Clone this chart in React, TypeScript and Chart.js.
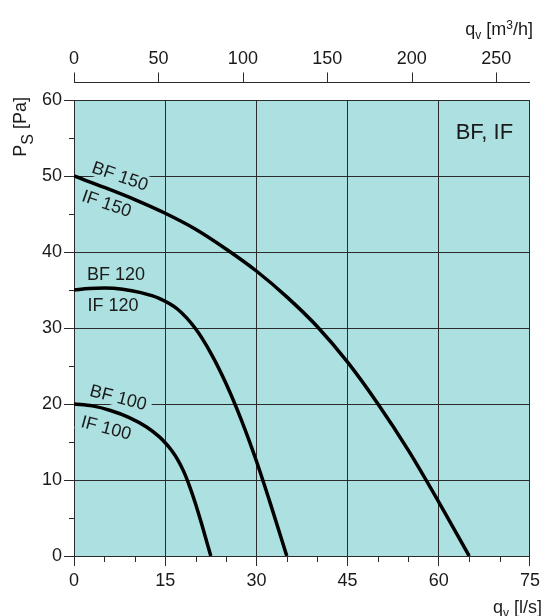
import { useEffect, useRef } from "react";
import { Chart, registerables } from "chart.js";

Chart.register(...registerables);

// Airflow in l/s and static pressure in Pa for each fan size
const flow150 = [0, 5, 10, 15, 20, 25, 30, 35, 40, 45, 50, 55, 60, 65];
const pressure150 = [50, 48.5, 46.9, 45.1, 43.0, 40.4, 37.5, 34.1, 30.2, 25.5, 20.0, 13.9, 7.1, 0];

const flow120 = [0, 2.5, 5, 8, 11, 14, 17, 20, 22.5, 25, 27.5, 30, 32.5, 35];
const pressure120 = [35.0, 35.2, 35.25, 35.1, 34.65, 33.9, 32.5, 29.9, 26.7, 22.7, 17.95, 12.5, 6.4, 0];

const flow100 = [0, 3, 6, 9, 12, 14, 15, 16, 17, 18, 19, 20, 21, 22, 22.5];
const pressure100 = [20, 19.75, 19.15, 18.25, 16.95, 15.7, 14.9, 13.95, 12.75, 11.2, 9.2, 6.85, 4.2, 1.4, 0];

const xMinorTicks = [5, 10, 20, 25, 35, 40, 50, 55, 65, 70];
const yMinorTicks = [5, 15, 25, 35, 45, 55];

const curveLabels = [
  { text: "BF 150", x: 7.6, y: 50.0, angle: 19 },
  { text: "IF 150", x: 5.4, y: 46.4, angle: 19 },
  { text: "BF 120", x: 6.9, y: 37.1, angle: 0 },
  { text: "IF 120", x: 6.4, y: 33.0, angle: 0 },
  { text: "BF 100", x: 7.3, y: 20.9, angle: 14.5 },
  { text: "IF 100", x: 5.3, y: 16.9, angle: 15 },
];
const chartTag = { text: "BF, IF", x: 67.5, y: 55.7 };

const FONT = "'Liberation Sans', Arial, Helvetica, sans-serif";
const BG = "#ade0e0";
const INK = "#1a1a1a";
const GRID = "#2b2b2b";

type Seg = { text: string; size: number; dy?: number };

function richWidth(ctx: CanvasRenderingContext2D, segs: Seg[]) {
  let w = 0;
  for (const s of segs) {
    ctx.font = `${s.size}px ${FONT}`;
    w += ctx.measureText(s.text).width;
  }
  return w;
}

function drawRich(ctx: CanvasRenderingContext2D, segs: Seg[], x: number, y: number) {
  let cx = x;
  ctx.textAlign = "left";
  ctx.textBaseline = "alphabetic";
  for (const s of segs) {
    ctx.font = `${s.size}px ${FONT}`;
    ctx.fillText(s.text, cx, y + (s.dy || 0));
    cx += ctx.measureText(s.text).width;
  }
}

const decorPlugin = {
  id: "decor",
  beforeDraw(chart: any) {
    const { ctx, chartArea } = chart;
    ctx.save();
    ctx.fillStyle = BG;
    ctx.fillRect(chartArea.left, chartArea.top, chartArea.right - chartArea.left, chartArea.bottom - chartArea.top);
    ctx.restore();
  },
  beforeDatasetsDraw(chart: any) {
    const { ctx } = chart;
    const xs = chart.scales.x;
    const ys = chart.scales.y;
    ctx.save();
    for (const l of curveLabels) {
      const px = xs.getPixelForValue(l.x);
      const py = ys.getPixelForValue(l.y);
      ctx.save();
      ctx.translate(px, py);
      ctx.rotate((l.angle * Math.PI) / 180);
      ctx.font = `18px ${FONT}`;
      const w = ctx.measureText(l.text).width;
      ctx.fillStyle = BG;
      ctx.fillRect(-w / 2 - 5, -9, w + 10, 18);
      ctx.fillStyle = INK;
      ctx.textAlign = "center";
      ctx.textBaseline = "middle";
      ctx.fillText(l.text, 0, 1);
      ctx.restore();
    }
    ctx.font = `22px ${FONT}`;
    ctx.fillStyle = INK;
    ctx.textAlign = "center";
    ctx.textBaseline = "middle";
    ctx.fillText(chartTag.text, xs.getPixelForValue(chartTag.x), ys.getPixelForValue(chartTag.y));
    ctx.restore();
  },
  afterDraw(chart: any) {
    const { ctx, chartArea } = chart;
    const xs = chart.scales.x;
    const ys = chart.scales.y;
    const x2 = chart.scales.x2;
    ctx.save();
    ctx.strokeStyle = GRID;
    ctx.lineWidth = 1;
    // top axis line and ticks
    const yLine = Math.round(chartArea.top - 18) + 0.5;
    ctx.beginPath();
    ctx.moveTo(chartArea.left, yLine);
    ctx.lineTo(chartArea.right, yLine);
    for (const t of x2.ticks) {
      const px = Math.round(x2.getPixelForValue(t.value)) + 0.5;
      ctx.moveTo(px, yLine);
      ctx.lineTo(px, yLine - 10);
    }
    // minor ticks
    for (const v of xMinorTicks) {
      const px = Math.round(xs.getPixelForValue(v)) + 0.5;
      ctx.moveTo(px, chartArea.bottom);
      ctx.lineTo(px, chartArea.bottom + 6);
    }
    for (const v of yMinorTicks) {
      const py = Math.round(ys.getPixelForValue(v)) + 0.5;
      ctx.moveTo(chartArea.left, py);
      ctx.lineTo(chartArea.left - 5, py);
    }
    ctx.stroke();

    ctx.fillStyle = INK;
    // top title
    const topSegs: Seg[] = [
      { text: "q", size: 18 },
      { text: "v", size: 12, dy: 4 },
      { text: " [m", size: 18 },
      { text: "3", size: 12, dy: -6 },
      { text: "/h]", size: 18 },
    ];
    drawRich(ctx, topSegs, 533 - richWidth(ctx, topSegs), 35);
    // bottom title
    const botSegs: Seg[] = [
      { text: "q", size: 18 },
      { text: "v", size: 12, dy: 4 },
      { text: " [l/s]", size: 18 },
    ];
    drawRich(ctx, botSegs, 542 - richWidth(ctx, botSegs), 613);
    // y title
    const ySegs: Seg[] = [
      { text: "P", size: 18 },
      { text: "S", size: 16, dy: 7 },
      { text: " [Pa]", size: 18 },
    ];
    const yw = richWidth(ctx, ySegs);
    ctx.translate(25.5, 97 + yw);
    ctx.rotate(-Math.PI / 2);
    drawRich(ctx, ySegs, 0, 0);
    ctx.restore();
  },
};

function toPoints(xs: number[], ys: number[]) {
  return xs.map((x, i) => ({ x, y: ys[i] }));
}

export default function App() {
  const ref = useRef<HTMLCanvasElement | null>(null);
  useEffect(() => {
    if (!ref.current) return;
    const tickFont = { family: FONT, size: 18 };
    const ds = (data: any) => ({
      data,
      borderColor: "#000",
      borderWidth: 3.5,
      fill: false,
      pointRadius: 0,
      cubicInterpolationMode: "monotone" as const,
      xAxisID: "x",
      yAxisID: "y",
    });
    const chart = new Chart(ref.current, {
      type: "line",
      data: {
        datasets: [
          ds(toPoints(flow150, pressure150)),
          ds(toPoints(flow120, pressure120)),
          ds(toPoints(flow100, pressure100)),
        ],
      },
      options: {
        animation: false,
        responsive: false,
        maintainAspectRatio: false,
        layout: { padding: { left: 0, right: 13, top: 0, bottom: 0 } },
        plugins: { legend: { display: false }, tooltip: { enabled: false } },
        scales: {
          x: {
            type: "linear",
            position: "bottom",
            min: 0,
            max: 75,
            afterFit: (s: any) => {
              s.height = 60;
            },
            ticks: { stepSize: 15, font: tickFont, color: INK, padding: 4, maxRotation: 0, autoSkip: false },
            grid: { color: GRID, tickColor: GRID, tickLength: 10, lineWidth: 1 },
            border: { color: GRID, width: 1 },
          },
          y: {
            type: "linear",
            min: 0,
            max: 60,
            afterFit: (s: any) => {
              s.width = 74;
            },
            ticks: { stepSize: 10, font: tickFont, color: INK, padding: 2 },
            grid: { color: GRID, tickColor: GRID, tickLength: 10, lineWidth: 1 },
            border: { color: GRID, width: 1 },
          },
          x2: {
            type: "linear",
            position: "top",
            min: 0,
            max: 270,
            afterFit: (s: any) => {
              s.height = 100;
            },
            ticks: { stepSize: 50, includeBounds: false, font: tickFont, color: INK, padding: 30, maxRotation: 0, autoSkip: false },
            grid: { display: false, drawTicks: false, drawOnChartArea: false },
            border: { display: false },
          },
        },
      } as any,
      plugins: [decorPlugin],
    });
    return () => chart.destroy();
  }, []);
  return (
    <div style={{ position: "absolute", left: 0, top: 0, width: 544, height: 616 }}>
      <canvas ref={ref} width={544} height={616} />
    </div>
  );
}
